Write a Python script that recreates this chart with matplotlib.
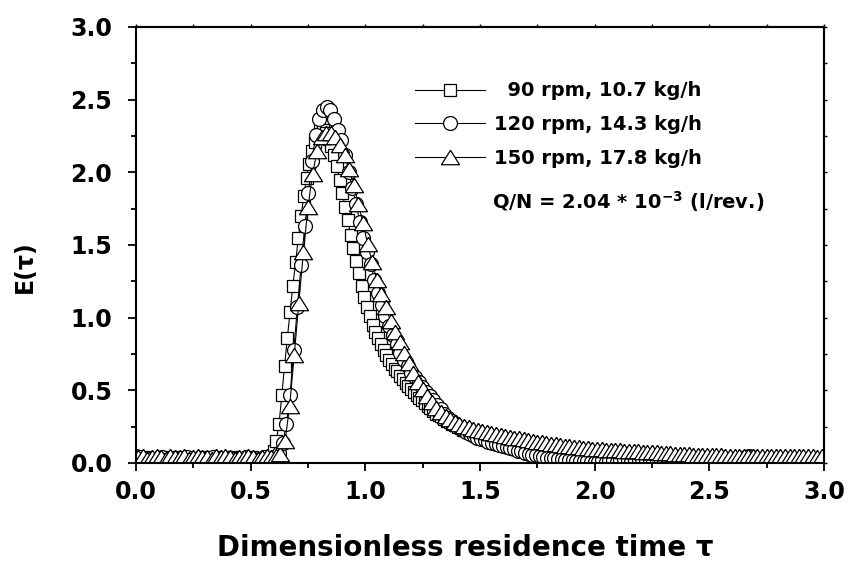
import numpy as np
import matplotlib
matplotlib.use('Agg')
import matplotlib.pyplot as plt
from matplotlib.ticker import MultipleLocator, FormatStrFormatter

plt.rcParams['font.family'] = ['DejaVu Sans']
plt.rcParams['font.weight'] = 'bold'
plt.rcParams['mathtext.fontset'] = 'custom'
plt.rcParams['mathtext.rm'] = 'DejaVu Sans'
plt.rcParams['mathtext.bf'] = 'DejaVu Sans:bold'

# same sampling time for all runs -> tau step grows with throughput
step90 = 0.012
step120 = 0.016
step150 = 0.020

# 90 rpm, 10.7 kg/h (squares)
e90 = [0.02, 0.03, 0.02, 0.04, 0.03, 0.02, 0.03, 0.03, 0.02, 0.04,
       0.03, 0.02, 0.03, 0.02, 0.04, 0.03, 0.03, 0.02, 0.03, 0.04,
       0.02, 0.03, 0.03, 0.02, 0.04, 0.03, 0.02, 0.03, 0.03, 0.04,
       0.03, 0.02, 0.03, 0.03, 0.02, 0.04, 0.03, 0.03, 0.02, 0.03,
       0.02, 0.03, 0.04, 0.03, 0.02, 0.03, 0.02, 0.03, 0.04,
       0.05, 0.08, 0.15, 0.27, 0.47, 0.67, 0.86, 1.04, 1.22, 1.38,
       1.55, 1.70, 1.84, 1.96, 2.06, 2.15, 2.21, 2.26, 2.29, 2.29,
       2.27, 2.23, 2.18, 2.12, 2.04, 1.95, 1.86, 1.76, 1.67, 1.57,
       1.48, 1.39, 1.31, 1.22, 1.14, 1.07, 1.01, 0.95, 0.90, 0.86,
       0.82, 0.78, 0.74, 0.71, 0.68, 0.65, 0.63, 0.60, 0.58, 0.55,
       0.53, 0.51, 0.49, 0.47, 0.45, 0.43, 0.41, 0.39, 0.38, 0.36,
       0.34, 0.33, 0.32, 0.30, 0.29, 0.28, 0.27, 0.26, 0.25, 0.24,
       0.23, 0.225, 0.22, 0.21, 0.205, 0.20, 0.195, 0.19, 0.18, 0.175,
       0.17, 0.16, 0.155, 0.15, 0.145, 0.14, 0.135, 0.13, 0.12, 0.115,
       0.11, 0.105, 0.10, 0.09, 0.085, 0.08, 0.075, 0.07, 0.065, 0.06,
       0.055, 0.05, 0.046, 0.043, 0.039, 0.036, 0.033, 0.031, 0.029, 0.027,
       0.025, 0.023, 0.022, 0.021, 0.02, 0.02, 0.02, 0.02,
       0.02, 0.03, 0.02, 0.02, 0.03, 0.02, 0.03, 0.02, 0.02, 0.03,
       0.02, 0.03, 0.03, 0.02, 0.02, 0.03, 0.02, 0.03, 0.02, 0.02,
       0.03, 0.02, 0.02, 0.03, 0.03, 0.02, 0.03, 0.02, 0.02, 0.03,
       0.02, 0.03, 0.02, 0.02, 0.03, 0.02, 0.03, 0.03, 0.02, 0.02,
       0.03, 0.02, 0.02, 0.03, 0.02, 0.03, 0.02, 0.02, 0.03, 0.02,
       0.03, 0.02, 0.03, 0.02, 0.02, 0.03, 0.02, 0.03, 0.02, 0.02,
       0.03, 0.02, 0.03, 0.02, 0.03, 0.02, 0.03, 0.02, 0.02, 0.03,
       0.02, 0.02, 0.03, 0.02, 0.03, 0.03, 0.02, 0.02, 0.03, 0.02,
       0.03, 0.02, 0.02, 0.03]

# 120 rpm, 14.3 kg/h (circles)
e120 = [0.05, 0.04, 0.03, 0.02, 0.03, 0.02, 0.03, 0.04, 0.02, 0.03,
        0.02, 0.03, 0.03, 0.02, 0.04, 0.02, 0.03, 0.02, 0.03, 0.03,
        0.02, 0.04, 0.03, 0.02, 0.03, 0.02, 0.03, 0.03, 0.02, 0.03,
        0.04, 0.02, 0.03, 0.02, 0.03, 0.04, 0.03,
        0.03, 0.04, 0.07, 0.14, 0.27, 0.47, 0.78, 1.07, 1.36, 1.63,
        1.86, 2.08, 2.26, 2.37, 2.43, 2.45, 2.43, 2.37, 2.29, 2.22,
        2.12, 2.00, 1.89, 1.78, 1.66, 1.55, 1.45, 1.37, 1.26, 1.17,
        1.09, 1.01, 0.94, 0.88, 0.82, 0.76, 0.71, 0.67, 0.62, 0.59,
        0.56, 0.52, 0.49, 0.46, 0.43, 0.40, 0.37, 0.34, 0.31, 0.29,
        0.27, 0.25, 0.23, 0.21, 0.20, 0.185, 0.175, 0.165, 0.155, 0.145,
        0.14, 0.13, 0.125, 0.115, 0.11, 0.10, 0.095, 0.085, 0.08, 0.07,
        0.064, 0.058, 0.052, 0.046, 0.041, 0.037, 0.034, 0.031, 0.028, 0.025,
        0.022, 0.02, 0.018, 0.017, 0.015, 0.013, 0.012, 0.01, 0.01,
        0.01, 0.02, 0.01, 0.02, 0.02, 0.01, 0.02, 0.03, 0.02, 0.01,
        0.02, 0.02, 0.03, 0.02, 0.01, 0.02, 0.02, 0.01, 0.02, 0.03,
        0.02, 0.02, 0.01, 0.02, 0.03, 0.02, 0.02, 0.01, 0.02, 0.02,
        0.03, 0.02, 0.02, 0.03, 0.02, 0.03, 0.02, 0.02, 0.03, 0.02,
        0.04, 0.05, 0.04, 0.03, 0.02, 0.03, 0.02, 0.02, 0.03, 0.02,
        0.02, 0.03, 0.02, 0.03, 0.02, 0.03, 0.02, 0.03, 0.02, 0.03,
        0.02, 0.03]

# 150 rpm, 17.8 kg/h (triangles)
e150 = [0.04, 0.05, 0.03, 0.04, 0.05, 0.04, 0.03, 0.05, 0.04, 0.04,
        0.05, 0.03, 0.04, 0.05, 0.04, 0.04, 0.03, 0.05, 0.04, 0.05,
        0.04, 0.03, 0.04, 0.04, 0.05, 0.04, 0.03, 0.04, 0.05, 0.04,
        0.05,
        0.06, 0.15, 0.39, 0.74, 1.10, 1.45, 1.76, 1.99, 2.15, 2.24,
        2.27, 2.27, 2.24, 2.19, 2.12, 2.02, 1.91, 1.78, 1.65, 1.51,
        1.38, 1.26, 1.16, 1.07, 0.98, 0.90, 0.83, 0.76, 0.69, 0.62,
        0.56, 0.51, 0.46, 0.42, 0.38, 0.35, 0.32, 0.30, 0.28, 0.265,
        0.255, 0.245, 0.235, 0.225, 0.217, 0.211, 0.205, 0.199, 0.193, 0.187,
        0.181, 0.175, 0.169, 0.163, 0.158, 0.152, 0.147, 0.142, 0.137, 0.132,
        0.128, 0.124, 0.12, 0.116, 0.112, 0.108, 0.104, 0.10, 0.098, 0.096,
        0.094, 0.092, 0.09, 0.088, 0.086, 0.084, 0.083, 0.081, 0.08, 0.078,
        0.077, 0.075, 0.073, 0.071, 0.069, 0.067, 0.065, 0.063, 0.061, 0.06,
        0.058, 0.057, 0.056, 0.055, 0.054, 0.053, 0.052, 0.051, 0.05,
        0.05, 0.049, 0.05, 0.048, 0.049, 0.047, 0.049, 0.048, 0.046, 0.048,
        0.047, 0.046, 0.047, 0.045, 0.046, 0.047, 0.045, 0.046, 0.044, 0.045]

tau90 = np.arange(len(e90)) * step90
tau120 = np.arange(len(e120)) * step120
tau150 = 0.01 + np.arange(len(e150)) * step150

labels = ['  90 rpm, 10.7 kg/h', '120 rpm, 14.3 kg/h', '150 rpm, 17.8 kg/h']

# wide flat triangle like the original symbol
tri = [(0, 0.8), (-1, -0.8), (1, -0.8), (0, 0.8)]

fig = plt.figure(figsize=(8.53, 5.68), dpi=100)
ax = fig.add_axes([0.1594, 0.1849, 0.8066, 0.7676])

style = dict(color='black', lw=0.8, mfc='white', mec='black', mew=0.9)
ax.plot(tau90, e90, marker='s', ms=8.5, label=labels[0], **style)
ax.plot(tau120, e120, marker='o', ms=10, label=labels[1], **style)
ax.plot(tau150, e150, marker=tri, ms=13, label=labels[2], **style)

ax.set_xlim(0, 3.0)
ax.set_ylim(0, 3.0)
ax.xaxis.set_major_locator(MultipleLocator(0.5))
ax.xaxis.set_minor_locator(MultipleLocator(0.25))
ax.yaxis.set_major_locator(MultipleLocator(0.5))
ax.yaxis.set_minor_locator(MultipleLocator(0.25))
ax.xaxis.set_major_formatter(FormatStrFormatter('%.1f'))
ax.yaxis.set_major_formatter(FormatStrFormatter('%.1f'))

for sp in ax.spines.values():
    sp.set_linewidth(1.5)
ax.tick_params(which='both', direction='out', width=1.3)
ax.tick_params(which='major', length=6, labelsize=17)
ax.tick_params(which='minor', length=3.6)
ax.tick_params(axis='x', which='major', pad=6)
ax.tick_params(axis='y', which='major', pad=11)

# short ticks on the top and right frame
top = ax.secondary_xaxis('top')
top.xaxis.set_major_locator(MultipleLocator(0.5))
top.xaxis.set_minor_locator(MultipleLocator(0.25))
top.tick_params(which='both', direction='out', length=2, width=1.0, labeltop=False)
right = ax.secondary_yaxis('right')
right.yaxis.set_major_locator(MultipleLocator(0.5))
right.yaxis.set_minor_locator(MultipleLocator(0.25))
right.tick_params(which='both', direction='out', length=2, width=1.0, labelright=False)
for sec in (top, right):
    for sp in sec.spines.values():
        sp.set_linewidth(1.5)

ax.set_xlabel('Dimensionless residence time τ', fontsize=20, fontweight='bold')
ax.xaxis.set_label_coords(0.479, -0.162)
ax.set_ylabel('E(τ)', fontsize=17, fontweight='bold')
ax.yaxis.set_label_coords(-0.144, 0.45)

leg = ax.legend(loc='upper left', bbox_to_anchor=(0.405, 0.875), frameon=False,
                prop={'size': 14, 'weight': 'bold'}, handlelength=3.6,
                handletextpad=0.5, labelspacing=0.75, borderpad=0, borderaxespad=0)

ax.text(0.913, 0.60, r'Q/N = 2.04 * 10$^{\mathbf{-3}}$ (l/rev.)', transform=ax.transAxes,
        ha='right', va='center', fontsize=14, fontweight='bold')

fig.savefig('out.png', dpi=100)
